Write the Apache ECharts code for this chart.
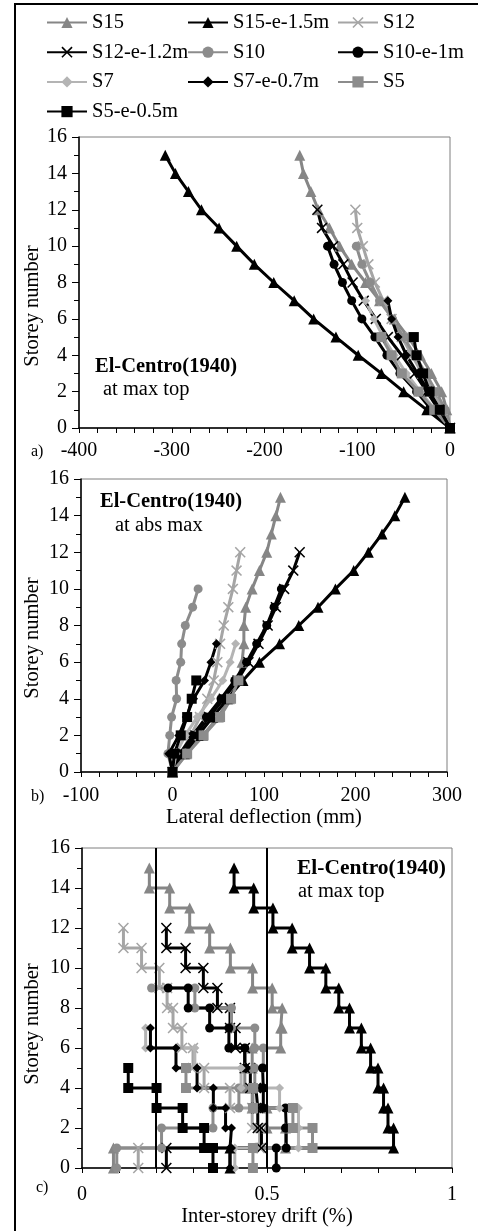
<!DOCTYPE html>
<html>
<head>
<meta charset="utf-8">
<script src="https://cdn.jsdelivr.net/npm/echarts@6/dist/echarts.min.js"></script>
<style>
  html, body { margin: 0; padding: 0; background: #fff; }
  #chart { width: 478px; height: 1231px; }
</style>
</head>
<body>
<div id="chart"></div>
<script>
const seriesNames = ['S15', 'S15-e-1.5m', 'S12', 'S12-e-1.2m', 'S10', 'S10-e-1m', 'S7', 'S7-e-0.7m', 'S5', 'S5-e-0.5m'];

// a) lateral deflection at max top (mm), index = storey number
const topS15 = [0, -3.5, -9, -20, -32, -45, -60, -76, -91, -106, -119, -130, -142, -150, -158, -162];
const topS15e = [0, -25, -50, -74, -99, -123, -147, -168, -190, -211, -230, -249, -268, -282, -296, -307];
const topS12 = [0, -8, -18, -30, -41, -52, -63, -72, -81, -88, -94, -100, -102];
const topS12e = [0, -12, -25, -38, -52, -67, -80, -93, -105, -115, -126, -138, -143];
const topS10 = [0, -5, -15, -26, -38, -50, -62, -76, -86, -95, -101];
const topS10e = [0, -20, -36, -54, -68, -81, -95, -106, -116, -125, -132];
const topS7 = [0, -16, -32, -47, -60, -72, -82, -91];
const topS7e = [0, -11, -23, -35, -47, -56, -63, -67];
const topS5 = [0, -17, -34, -52, -63, -74];
const topS5e = [0, -11, -22, -29, -36, -39];

// b) lateral deflection at abs max (mm)
const absS15 = [0, 15, 33, 50, 62, 72, 76, 78, 78, 80, 87, 95, 103, 108, 113, 118];
const absS15e = [0, 13, 28, 44, 60, 77, 95, 117, 138, 159, 178, 198, 214, 229, 243, 254];
const absS12 = [0, 9, 20, 30, 38, 45, 49, 52, 56, 61, 66, 70, 74];
const absS12e = [0, 11, 25, 40, 56, 71, 83, 94, 104, 113, 122, 132, 139];
const absS10 = [0, -5, -3, -1, 4.5, 4, 9, 10, 14, 22, 28];
const absS10e = [0, 8, 22, 37, 53, 68, 81, 92, 103, 111, 119];
const absS7 = [0, 4, 14, 27, 42, 55, 63, 69];
const absS7e = [0, -4, 7, 15, 23, 35, 42, 48];
const absS5 = [0, 16, 34, 52, 64, 72];
const absS5e = [0, 2, 9, 16, 21, 26];

// c) inter-storey drift (%), index 0 = storey 1
const driftS15 = [0.085, 0.55, 0.50, 0.46, 0.44, 0.46, 0.537, 0.541, 0.514, 0.461, 0.401, 0.345, 0.291, 0.237, 0.182];
const driftS15e = [0.40, 0.842, 0.827, 0.815, 0.80, 0.78, 0.755, 0.723, 0.694, 0.659, 0.615, 0.568, 0.516, 0.464, 0.411];
const driftS12 = [0.152, 0.48, 0.46, 0.40, 0.33, 0.30, 0.27, 0.246, 0.23, 0.209, 0.161, 0.112];
const driftS12e = [0.228, 0.485, 0.475, 0.47, 0.455, 0.44, 0.415, 0.40, 0.366, 0.328, 0.28, 0.228];
const driftS10 = [0.094, 0.215, 0.354, 0.424, 0.467, 0.49, 0.467, 0.404, 0.305, 0.188];
const driftS10e = [0.525, 0.552, 0.55, 0.49, 0.488, 0.44, 0.397, 0.345, 0.287, 0.233];
const driftS7 = [0.413, 0.585, 0.585, 0.534, 0.43, 0.305, 0.172];
const driftS7e = [0.40, 0.404, 0.388, 0.355, 0.311, 0.254, 0.185];
const driftS5 = [0.462, 0.623, 0.57, 0.462, 0.281];
const driftS5e = [0.354, 0.33, 0.272, 0.2015, 0.125];
const driftLimits = [0.2, 0.5];
const driftTop = {'S10': 9, 'S10-e-1m': 9};

const topData = [topS15, topS15e, topS12, topS12e, topS10, topS10e, topS7, topS7e, topS5, topS5e];
const absData = [absS15, absS15e, absS12, absS12e, absS10, absS10e, absS7, absS7e, absS5, absS5e];
const driftData = [driftS15, driftS15e, driftS12, driftS12e, driftS10, driftS10e, driftS7, driftS7e, driftS5, driftS5e];

const FONT = '"Liberation Serif", "Times New Roman", serif';
const CROSS = 'path://M0,1L1,0L5,4L9,0L10,1L6,5L10,9L9,10L5,6L1,10L0,9L4,5Z';
const DIAMOND = 'path://M5,0L10,5L5,10L0,5Z';

const styles = {
  'S15': {color: '#868686', symbol: 'triangle', size: 11},
  'S15-e-1.5m': {color: '#000000', symbol: 'triangle', size: 11},
  'S12': {color: '#a5a5a5', symbol: CROSS, size: 11},
  'S12-e-1.2m': {color: '#000000', symbol: CROSS, size: 11},
  'S10': {color: '#8c8c8c', symbol: 'circle', size: 9},
  'S10-e-1m': {color: '#000000', symbol: 'circle', size: 9},
  'S7': {color: '#b4b4b4', symbol: DIAMOND, size: 9},
  'S7-e-0.7m': {color: '#000000', symbol: DIAMOND, size: 9},
  'S5': {color: '#8c8c8c', symbol: 'rect', size: 10},
  'S5-e-0.5m': {color: '#000000', symbol: 'rect', size: 10}
};

const grids = [
  {left: 79, top: 137, width: 371, height: 291},
  {left: 81, top: 479, width: 366, height: 293},
  {left: 82, top: 848, width: 370, height: 320}
];

function profile(values) {
  return values.map((v, i) => [v, i]);
}

function steps(drifts, top) {
  const pts = [];
  drifts.forEach((d, i) => {
    pts.push([d, i]);
    pts.push([d, i + 1]);
  });
  return top == null ? pts : pts.filter(p => p[1] <= top);
}

function makeSeries(name, data, gridIndex) {
  const st = styles[name];
  return {
    type: 'line',
    name: name,
    xAxisIndex: gridIndex,
    yAxisIndex: gridIndex,
    data: data,
    symbol: st.symbol,
    symbolSize: st.size,
    color: st.color,
    lineStyle: {color: st.color, width: 3},
    itemStyle: {color: st.color},
    animation: false,
    silent: true
  };
}

function yAxisCfg(gridIndex) {
  return {
    type: 'value',
    gridIndex: gridIndex,
    min: 0,
    max: 16,
    interval: 2,
    axisLine: {show: true, onZero: false, lineStyle: {color: '#000', width: 1.5}},
    axisTick: {show: true, length: 7, lineStyle: {color: '#000', width: 1}},
    minorTick: {show: true, splitNumber: 2, length: 5, lineStyle: {color: '#000', width: 1}},
    axisLabel: {fontFamily: FONT, fontSize: 20, color: '#000', margin: 12},
    splitLine: {show: false}
  };
}

function xAxisCfg(gridIndex, min, max, interval, margin) {
  return {
    type: 'value',
    gridIndex: gridIndex,
    min: min,
    max: max,
    interval: interval,
    axisLine: {show: true, onZero: false, lineStyle: {color: '#000', width: 1.5}},
    axisTick: {show: true, length: 5, lineStyle: {color: '#000', width: 1}},
    minorTick: {show: true, splitNumber: 5, length: 5, lineStyle: {color: '#000', width: 1}},
    axisLabel: {fontFamily: FONT, fontSize: 20, color: '#000', margin: margin},
    splitLine: {show: false},
    nameLocation: 'middle',
    nameTextStyle: {fontFamily: FONT, fontSize: 20.5, color: '#000'}
  };
}

const series = [];
seriesNames.forEach((name, i) => series.push(makeSeries(name, profile(topData[i]), 0)));
seriesNames.forEach((name, i) => series.push(makeSeries(name, profile(absData[i]), 1)));
seriesNames.forEach((name, i) => series.push(makeSeries(name, steps(driftData[i], driftTop[name]), 2)));

// drift limit lines in panel c
series.push({
  type: 'line',
  xAxisIndex: 2,
  yAxisIndex: 2,
  data: [],
  silent: true,
  animation: false,
  markLine: {
    silent: true,
    symbol: 'none',
    label: {show: false},
    lineStyle: {color: '#000', width: 2, type: 'solid'},
    data: driftLimits.map(v => ({xAxis: v}))
  }
});

const legendCols = [
  ['S15', 'S12-e-1.2m', 'S7', 'S5-e-0.5m'],
  ['S15-e-1.5m', 'S10', 'S7-e-0.7m'],
  ['S12', 'S10-e-1m', 'S5']
];
const legendLeft = [41, 182, 332];

const legends = legendCols.map((col, i) => ({
  orient: 'vertical',
  left: legendLeft[i],
  top: 7,
  data: col,
  itemWidth: 40,
  itemHeight: 14,
  itemGap: 8.7,
  selectedMode: false,
  textStyle: {fontFamily: FONT, fontSize: 20.5, color: '#000', lineHeight: 20}
}));

function label(text, x, y, size, bold) {
  return {
    type: 'text',
    x: x,
    y: y,
    style: {
      text: text,
      font: (bold ? 'bold ' : '') + size + 'px ' + FONT,
      fill: '#000',
      verticalAlign: 'middle'
    }
  };
}

function yName(y) {
  return {
    type: 'text',
    x: 33,
    y: y,
    rotation: Math.PI / 2,
    style: {
      text: 'Storey number',
      font: '20.5px ' + FONT,
      fill: '#000',
      align: 'center',
      verticalAlign: 'middle'
    }
  };
}

const graphics = [
  {type: 'rect', shape: {x: 15, y: 4, width: 480, height: 1240}, style: {fill: 'none', stroke: '#000', lineWidth: 2}, z: 100},
  yName(306), yName(638), yName(1024),
  label('El-Centro(1940)', 95, 367, 20.5, true),
  label('at max top', 103, 390, 20.5),
  label('El-Centro(1940)', 100, 502, 20.5, true),
  label('at abs max', 115, 526, 20.5),
  label('El-Centro(1940)', 297, 868, 21.5, true),
  label('at max top', 298, 892, 20.5),
  label('a)', 31, 452, 16),
  label('b)', 31, 797, 16),
  label('c)', 36, 1188, 16)
];

const xa = xAxisCfg(0, -400, 0, 100, 13);
const xb = xAxisCfg(1, -100, 300, 100, 14);
xb.name = 'Lateral deflection (mm)';
xb.nameGap = 35;
const xc = xAxisCfg(2, 0, 1, 0.5, 17);
xc.name = 'Inter-storey drift (%)';
xc.nameGap = 34;

const option = {
  backgroundColor: '#fff',
  animation: false,
  textStyle: {fontFamily: FONT},
  legend: legends,
  grid: grids.map(g => Object.assign({show: true, borderColor: '#7f7f7f', borderWidth: 1, containLabel: false}, g)),
  xAxis: [xa, xb, xc],
  yAxis: [yAxisCfg(0), yAxisCfg(1), yAxisCfg(2)],
  series: series,
  graphic: graphics
};

const chart = echarts.init(document.getElementById('chart'), null, {renderer: 'canvas'});
chart.setOption(option);
</script>
</body>
</html>
